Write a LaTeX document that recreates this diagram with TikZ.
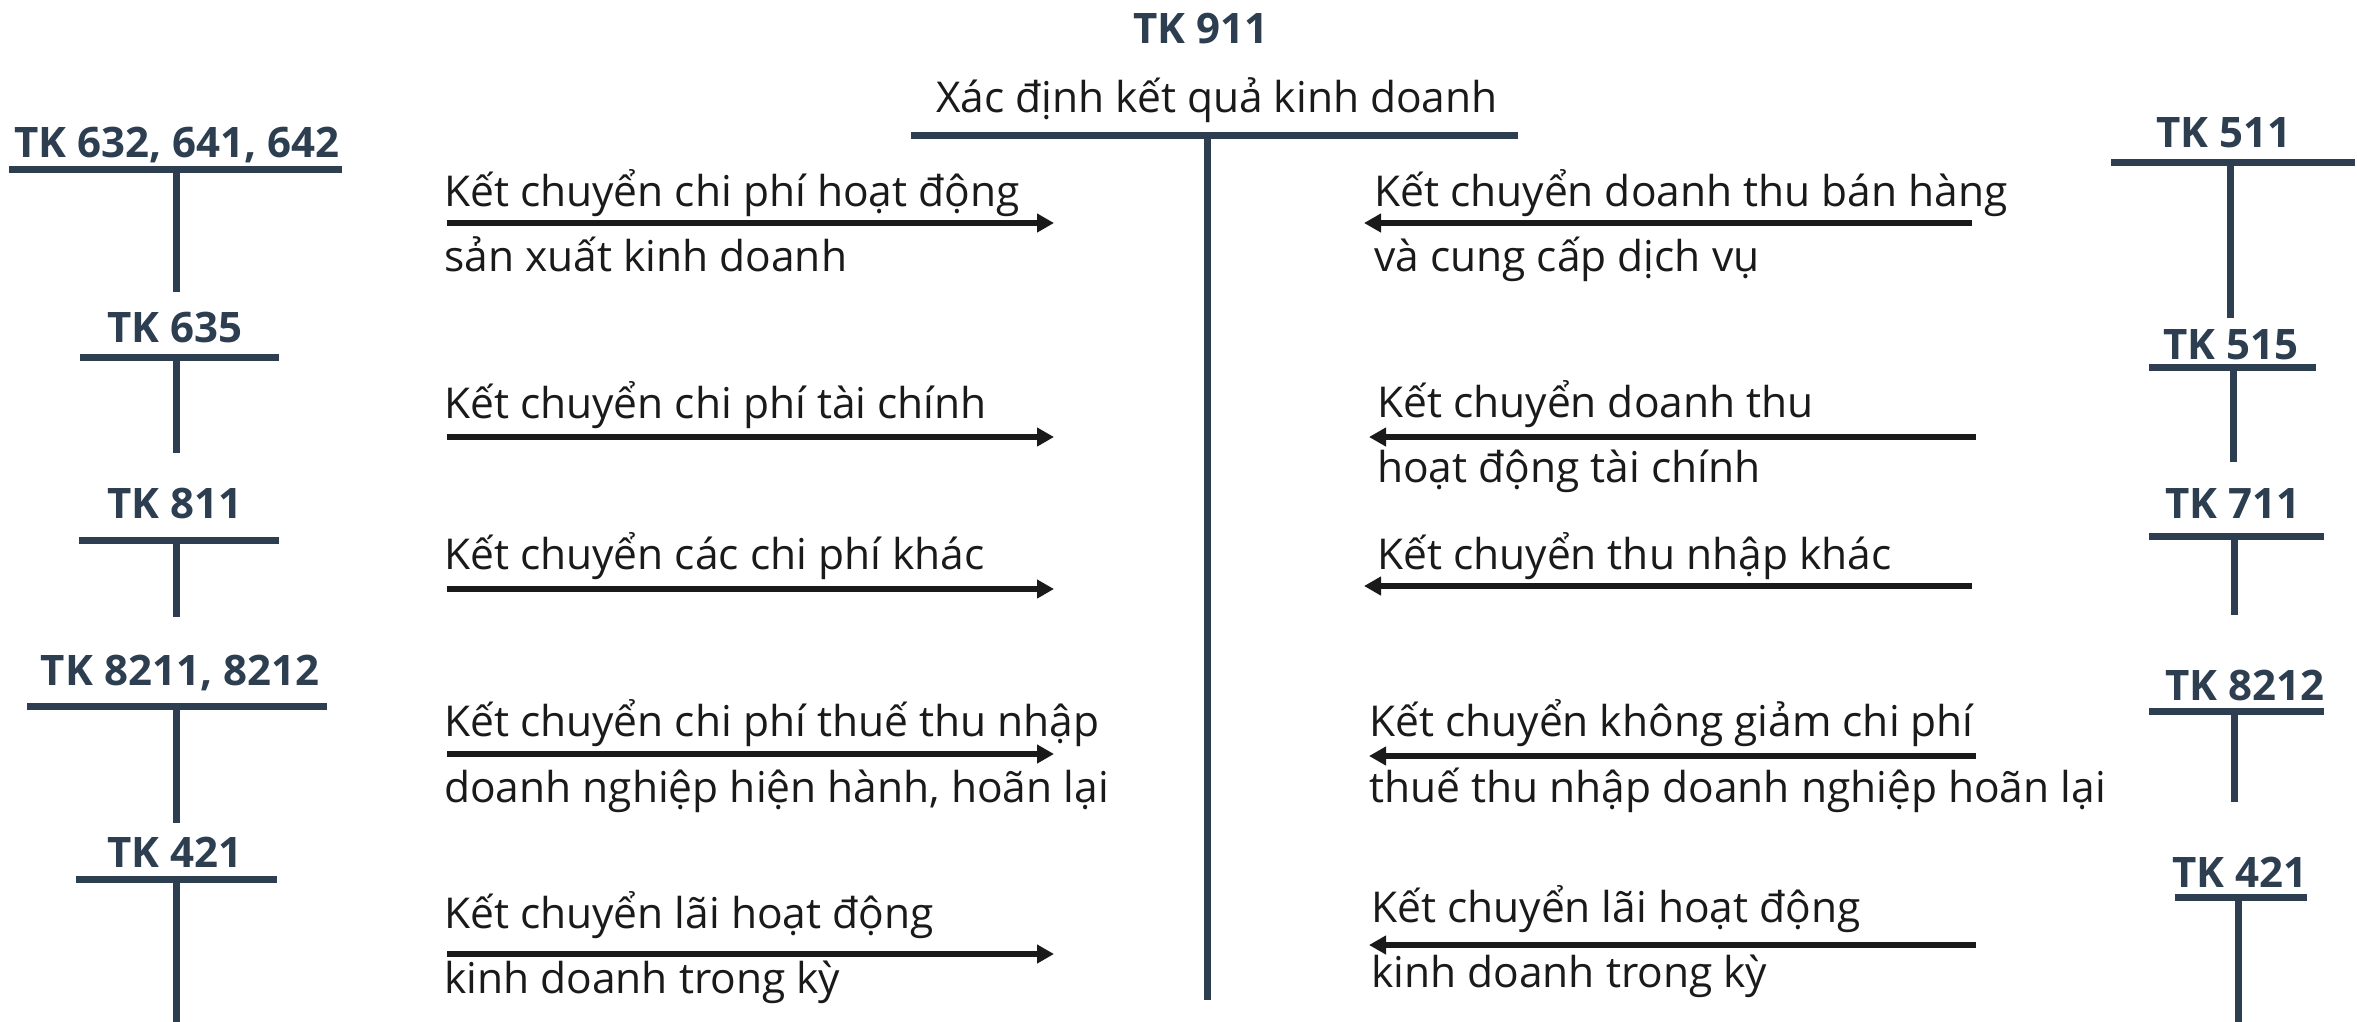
\documentclass[tikz,border=0pt]{standalone}
\usepackage{fontspec}
\setmainfont{Open Sans}
\usetikzlibrary{arrows.meta}
\definecolor{slate}{HTML}{2C3E50}
\definecolor{ink}{HTML}{1A1A1A}
\tikzset{
  tklabel/.style={anchor=base, inner sep=0pt, text=slate, font=\fontsize{42}{48}\selectfont\bfseries},
  desc/.style={anchor=base west, inner sep=0pt, text=ink, font=\fontsize{42.5}{50}\selectfont},
  titletext/.style={anchor=base, inner sep=0pt, text=ink, font=\fontsize{42.5}{50}\selectfont},
  tline/.style={draw=slate, line width=7pt},
  flow/.style={draw=ink, line width=5.5pt, -{Triangle[length=17pt,width=18pt]}}
}
\begin{document}
\begin{tikzpicture}[x=1pt,y=-1pt]
\useasboundingbox (0,0) rectangle (2357,1021);
% ---- TK 911
\node[tklabel] (t911) at (1201,43) {TK 911};
\node[titletext] (t911d) at (1217,112) {Xác định kết quả kinh doanh};
\coordinate (m1) at (911,135); \coordinate (m2) at (1518,135);
\coordinate (mt) at (1207,135); \coordinate (mb) at (1207,1000);
\draw[tline] (m1) -- (m2);
\draw[tline] (mt) -- (mb);
% ---- Left accounts
\node[tklabel] (l1) at (177,157) {TK 632, 641, 642};
\coordinate (l1a) at (9,169); \coordinate (l1b) at (342,169);
\coordinate (l1t) at (176,169); \coordinate (l1e) at (176,292);
\node[tklabel] (l2) at (175,342) {TK 635};
\coordinate (l2a) at (80,357); \coordinate (l2b) at (279,357);
\coordinate (l2t) at (176,357); \coordinate (l2e) at (176,453);
\node[tklabel] (l3) at (175,518) {TK 811};
\coordinate (l3a) at (79,540); \coordinate (l3b) at (279,540);
\coordinate (l3t) at (176,540); \coordinate (l3e) at (176,617);
\node[tklabel] (l4) at (180,685) {TK 8211, 8212};
\coordinate (l4a) at (27,706); \coordinate (l4b) at (327,706);
\coordinate (l4t) at (176,706); \coordinate (l4e) at (176,823);
\node[tklabel] (l5) at (175,867) {TK 421};
\coordinate (l5a) at (76,879); \coordinate (l5b) at (277,879);
\coordinate (l5t) at (176,879); \coordinate (l5e) at (176,1025);
\foreach \i in {1,...,5}{
  \draw[tline] (l\i a) -- (l\i b);
  \draw[tline] (l\i t) -- (l\i e);
}
% ---- Right accounts
\node[tklabel] (r1) at (2224,147) {TK 511};
\coordinate (r1a) at (2111,162); \coordinate (r1b) at (2355,162);
\coordinate (r1t) at (2230,162); \coordinate (r1e) at (2230,318);
\node[tklabel] (r2) at (2231,359) {TK 515};
\coordinate (r2a) at (2149,367); \coordinate (r2b) at (2316,367);
\coordinate (r2t) at (2233,367); \coordinate (r2e) at (2233,462);
\node[tklabel] (r3) at (2233,518) {TK 711};
\coordinate (r3a) at (2149,536); \coordinate (r3b) at (2324,536);
\coordinate (r3t) at (2234,536); \coordinate (r3e) at (2234,615);
\node[tklabel] (r4) at (2245,700) {TK 8212};
\coordinate (r4a) at (2149,711); \coordinate (r4b) at (2324,711);
\coordinate (r4t) at (2234,711); \coordinate (r4e) at (2234,802);
\node[tklabel] (r5) at (2240,887) {TK 421};
\coordinate (r5a) at (2175,897); \coordinate (r5b) at (2307,897);
\coordinate (r5t) at (2238,897); \coordinate (r5e) at (2238,1025);
\foreach \i in {1,...,5}{
  \draw[tline] (r\i a) -- (r\i b);
  \draw[tline] (r\i t) -- (r\i e);
}
% ---- Left flows
\coordinate (la1) at (447,223); \coordinate (lb1) at (1054,223);
\coordinate (la2) at (447,437); \coordinate (lb2) at (1054,437);
\coordinate (la3) at (447,589); \coordinate (lb3) at (1054,589);
\coordinate (la4) at (447,754); \coordinate (lb4) at (1054,754);
\coordinate (la5) at (447,954); \coordinate (lb5) at (1054,954);
\foreach \i in {1,...,5}{ \draw[flow] (la\i) -- (lb\i); }
\node[desc] (ld1a) at (444,206) {Kết chuyển chi phí hoạt động};
\node[desc] (ld1b) at (444,271) {sản xuất kinh doanh};
\node[desc] (ld2) at (444,418) {Kết chuyển chi phí tài chính};
\node[desc] (ld3) at (444,569) {Kết chuyển các chi phí khác};
\node[desc] (ld4a) at (444,736) {Kết chuyển chi phí thuế thu nhập};
\node[desc] (ld4b) at (444,802) {doanh nghiệp hiện hành, hoãn lại};
\node[desc] (ld5a) at (444,928) {Kết chuyển lãi hoạt động};
\node[desc] (ld5b) at (444,993) {kinh doanh trong kỳ};
% ---- Right flows
\coordinate (ra1) at (1972,223); \coordinate (rb1) at (1364,223);
\coordinate (ra2) at (1976,437); \coordinate (rb2) at (1369,437);
\coordinate (ra3) at (1972,586); \coordinate (rb3) at (1364,586);
\coordinate (ra4) at (1976,756); \coordinate (rb4) at (1369,756);
\coordinate (ra5) at (1976,945); \coordinate (rb5) at (1369,945);
\foreach \i in {1,...,5}{ \draw[flow] (ra\i) -- (rb\i); }
\node[desc] (rd1a) at (1374,206) {Kết chuyển doanh thu bán hàng};
\node[desc] (rd1b) at (1374,271) {và cung cấp dịch vụ};
\node[desc] (rd2a) at (1377,417) {Kết chuyển doanh thu};
\node[desc] (rd2b) at (1377,482) {hoạt động tài chính};
\node[desc] (rd3) at (1377,569) {Kết chuyển thu nhập khác};
\node[desc] (rd4a) at (1369,736) {Kết chuyển không giảm chi phí};
\node[desc] (rd4b) at (1369,802) {thuế thu nhập doanh nghiệp hoãn lại};
\node[desc] (rd5a) at (1371,922) {Kết chuyển lãi hoạt động};
\node[desc] (rd5b) at (1371,987) {kinh doanh trong kỳ};
\end{tikzpicture}
\end{document}
